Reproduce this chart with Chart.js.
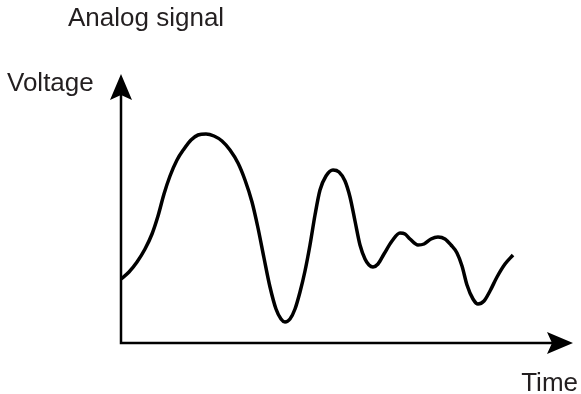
<!DOCTYPE html>
<html>
<head>
<meta charset="utf-8">
<script src="https://cdn.jsdelivr.net/npm/chart.js@4/dist/chart.umd.min.js"></script>
<style>
html,body{margin:0;padding:0;background:#fff;}
#wrap{width:581px;height:394px;position:relative;}
</style>
</head>
<body>
<div id="wrap"><canvas id="c" width="581" height="394"></canvas></div>
<script>
// Data (arbitrary time units 0-452, voltage units 0-269)
const timeValues = [0, 8, 16, 24, 31, 37, 43, 49, 56, 63, 70, 77, 85, 93, 101, 109, 117, 124, 131, 137, 143, 149, 155, 160, 164, 169, 174, 179, 184, 189, 194, 199, 205, 212, 218, 224, 229, 234, 239, 244, 248, 252, 257, 263, 271, 279, 284, 289, 297, 303, 310, 317, 324, 330, 336, 341, 346, 352, 357, 363, 369, 376, 384, 392];
const voltageValues = [64, 71, 81, 94, 109, 127, 149, 167, 183, 194, 203, 208, 209, 207, 202, 193, 180, 163, 141, 115, 85, 56, 34, 24, 21, 24, 34, 51, 72, 98, 128, 153, 167, 173, 171, 162, 146, 122, 98, 84, 78, 76, 79, 89, 102, 110, 109, 104, 98, 99, 104, 106, 104, 98, 90, 77, 58, 44, 39, 42, 52, 66, 79, 88];
const axisMaxTime = 452;
const axisMaxVoltage = 269;
const chartTitle = "Analog signal";
const yAxisLabel = "Voltage";
const xAxisLabel = "Time";

const points = timeValues.map((t, i) => ({x: t, y: voltageValues[i]}));

const textColor = '#231f20';
const fontFamily = '"Liberation Sans", Arial, Helvetica, sans-serif';

const decorPlugin = {
  id: 'decor',
  beforeDatasetsDraw(chart) {
    const ctx = chart.ctx;
    const xs = chart.scales.x, ys = chart.scales.y;
    const x0 = xs.getPixelForValue(0), xEnd = xs.getPixelForValue(axisMaxTime);
    const y0 = ys.getPixelForValue(0), yEnd = ys.getPixelForValue(axisMaxVoltage);
    ctx.save();
    ctx.strokeStyle = '#000';
    ctx.fillStyle = '#000';
    ctx.lineWidth = 2.5;
    ctx.lineCap = 'butt';
    ctx.beginPath();
    ctx.moveTo(x0, yEnd + 20);
    ctx.lineTo(x0, y0);
    ctx.lineTo(xEnd - 20, y0);
    ctx.stroke();
    ctx.beginPath();
    ctx.moveTo(x0, yEnd);
    ctx.lineTo(x0 - 11, yEnd + 26);
    ctx.lineTo(x0, yEnd + 21);
    ctx.lineTo(x0 + 11, yEnd + 26);
    ctx.closePath();
    ctx.fill();
    ctx.beginPath();
    ctx.moveTo(xEnd, y0);
    ctx.lineTo(xEnd - 26, y0 - 11);
    ctx.lineTo(xEnd - 21, y0);
    ctx.lineTo(xEnd - 26, y0 + 11);
    ctx.closePath();
    ctx.fill();
    ctx.fillStyle = textColor;
    ctx.font = '26px ' + fontFamily;
    ctx.textBaseline = 'alphabetic';
    ctx.textAlign = 'left';
    ctx.fillText(chartTitle, 68, 26);
    ctx.fillText(yAxisLabel, 7, 91);
    ctx.textAlign = 'right';
    ctx.fillText(xAxisLabel, 578, 391);
    ctx.restore();
  }
};

new Chart(document.getElementById('c'), {
  type: 'line',
  data: {
    datasets: [{
      data: points,
      borderColor: '#000',
      borderWidth: 3.5,
      pointRadius: 0,
      fill: false,
      cubicInterpolationMode: 'monotone'
    }]
  },
  options: {
    responsive: false,
    animation: false,
    layout: {padding: {left: 121, right: 8, top: 74, bottom: 51}},
    plugins: {legend: {display: false}, tooltip: {enabled: false}, title: {display: false}},
    scales: {
      x: {type: 'linear', min: 0, max: axisMaxTime, display: false},
      y: {type: 'linear', min: 0, max: axisMaxVoltage, display: false}
    }
  },
  plugins: [decorPlugin]
});
</script>
</body>
</html>
